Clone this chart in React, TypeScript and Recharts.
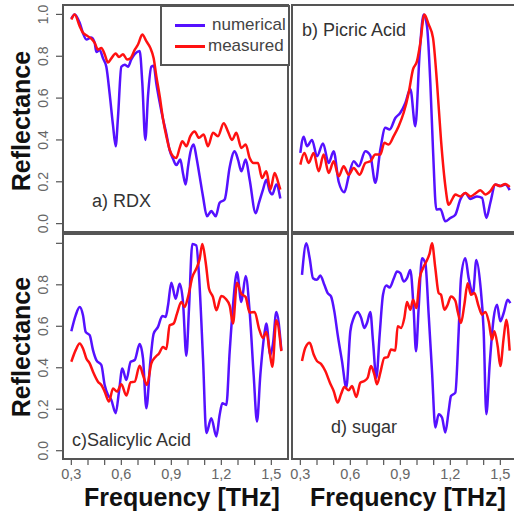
import React from 'react';
import { LineChart, Line, XAxis, YAxis, ReferenceArea } from 'recharts';

// frequency [THz], reflectance pairs
const rdxNumerical: [number, number][] = [
  [0.30, 0.98], [0.32, 1.0], [0.35, 0.96], [0.37, 0.91], [0.39, 0.88], [0.42, 0.89],
  [0.44, 0.865], [0.45, 0.82], [0.47, 0.83], [0.49, 0.79], [0.51, 0.75], [0.53, 0.62],
  [0.55, 0.47], [0.566, 0.37], [0.58, 0.51], [0.60, 0.75], [0.62, 0.76], [0.64, 0.75],
  [0.66, 0.785], [0.68, 0.81], [0.71, 0.825], [0.726, 0.67], [0.744, 0.40], [0.76, 0.61],
  [0.78, 0.75], [0.794, 0.755], [0.81, 0.67], [0.83, 0.58], [0.85, 0.50], [0.87, 0.43],
  [0.89, 0.35], [0.91, 0.31], [0.93, 0.28], [0.954, 0.306], [0.97, 0.24], [0.986, 0.187],
  [1.0, 0.27], [1.014, 0.34], [1.034, 0.378], [1.05, 0.32], [1.07, 0.226], [1.09, 0.13],
  [1.114, 0.035], [1.14, 0.06], [1.166, 0.035], [1.19, 0.10], [1.22, 0.115], [1.25, 0.27],
  [1.28, 0.346], [1.30, 0.306], [1.32, 0.25], [1.346, 0.306], [1.37, 0.21], [1.406, 0.05],
  [1.426, 0.10], [1.45, 0.163], [1.47, 0.21], [1.49, 0.155], [1.506, 0.14], [1.53, 0.187],
  [1.554, 0.12],
];
const rdxMeasured: [number, number][] = [
  [0.30, 0.976], [0.32, 1.0], [0.35, 0.944], [0.37, 0.912], [0.39, 0.90], [0.42, 0.884],
  [0.44, 0.864], [0.46, 0.832], [0.48, 0.84], [0.50, 0.81], [0.52, 0.77], [0.54, 0.79],
  [0.566, 0.813], [0.586, 0.797], [0.61, 0.81], [0.634, 0.785], [0.654, 0.79], [0.68, 0.83],
  [0.70, 0.856], [0.726, 0.904], [0.75, 0.872], [0.774, 0.84], [0.794, 0.79], [0.81, 0.705],
  [0.83, 0.61], [0.85, 0.50], [0.87, 0.418], [0.89, 0.354], [0.91, 0.322], [0.93, 0.314],
  [0.95, 0.362], [0.966, 0.394], [0.99, 0.37], [1.014, 0.418], [1.04, 0.44], [1.066, 0.41],
  [1.094, 0.426], [1.12, 0.37], [1.15, 0.434], [1.18, 0.418], [1.214, 0.48], [1.24, 0.44],
  [1.264, 0.40], [1.29, 0.434], [1.32, 0.362], [1.346, 0.378], [1.37, 0.314], [1.394, 0.29],
  [1.42, 0.29], [1.444, 0.218], [1.47, 0.25], [1.494, 0.163], [1.52, 0.242], [1.54, 0.20],
  [1.554, 0.163],
];
const picricNumerical: [number, number][] = [
  [0.30, 0.338], [0.32, 0.415], [0.34, 0.37], [0.37, 0.40], [0.40, 0.322], [0.436, 0.383],
  [0.47, 0.29], [0.50, 0.346], [0.53, 0.20], [0.564, 0.15], [0.59, 0.226], [0.62, 0.298],
  [0.65, 0.274], [0.69, 0.346], [0.72, 0.325], [0.75, 0.195], [0.78, 0.354], [0.81, 0.458],
  [0.836, 0.45], [0.87, 0.505], [0.90, 0.53], [0.93, 0.577], [0.96, 0.644], [0.99, 0.466],
  [1.016, 0.817], [1.04, 1.0], [1.06, 0.944], [1.08, 0.673], [1.096, 0.354], [1.116, 0.067],
  [1.14, 0.07], [1.17, 0.011], [1.20, 0.027], [1.23, 0.043], [1.26, 0.115], [1.29, 0.147],
  [1.32, 0.118], [1.36, 0.13], [1.39, 0.123], [1.416, 0.027], [1.44, 0.10], [1.47, 0.187],
  [1.50, 0.18], [1.53, 0.187], [1.556, 0.16],
];
const picricMeasured: [number, number][] = [
  [0.30, 0.282], [0.324, 0.338], [0.35, 0.29], [0.38, 0.338], [0.41, 0.25], [0.44, 0.33],
  [0.47, 0.242], [0.50, 0.298], [0.53, 0.226], [0.56, 0.274], [0.59, 0.234], [0.62, 0.266],
  [0.656, 0.234], [0.69, 0.29], [0.72, 0.298], [0.75, 0.33], [0.78, 0.33], [0.804, 0.386],
  [0.83, 0.378], [0.86, 0.418], [0.89, 0.466], [0.92, 0.53], [0.95, 0.625], [0.976, 0.737],
  [1.0, 0.777], [1.02, 0.864], [1.044, 1.0], [1.07, 0.952], [1.096, 0.888], [1.12, 0.673],
  [1.144, 0.40], [1.17, 0.18], [1.19, 0.09], [1.21, 0.115], [1.23, 0.139], [1.26, 0.13],
  [1.29, 0.147], [1.32, 0.13], [1.35, 0.144], [1.38, 0.16], [1.41, 0.139], [1.44, 0.155],
  [1.47, 0.187], [1.50, 0.18], [1.53, 0.19], [1.556, 0.175],
];
const salicylicNumerical: [number, number][] = [
  [0.30, 0.576], [0.326, 0.653], [0.35, 0.693], [0.37, 0.653], [0.386, 0.573], [0.41, 0.557],
  [0.43, 0.485], [0.45, 0.437], [0.48, 0.413], [0.50, 0.317], [0.52, 0.269], [0.54, 0.245],
  [0.566, 0.181], [0.586, 0.285], [0.606, 0.397], [0.63, 0.341], [0.656, 0.429], [0.68, 0.437],
  [0.71, 0.514], [0.73, 0.445], [0.75, 0.205], [0.774, 0.429], [0.794, 0.565], [0.82, 0.597],
  [0.846, 0.65], [0.866, 0.645], [0.88, 0.70], [0.90, 0.81], [0.926, 0.733], [0.95, 0.805],
  [0.97, 0.717], [0.99, 0.458], [1.006, 0.685], [1.026, 0.997], [1.05, 0.99], [1.066, 0.845],
  [1.09, 0.445], [1.11, 0.085], [1.14, 0.157], [1.17, 0.069], [1.19, 0.173], [1.206, 0.229],
  [1.23, 0.221], [1.25, 0.477], [1.27, 0.70], [1.294, 0.861], [1.32, 0.717], [1.346, 0.842],
  [1.37, 0.669], [1.394, 0.365], [1.414, 0.141], [1.434, 0.365], [1.46, 0.573], [1.47, 0.613],
  [1.494, 0.461], [1.51, 0.517], [1.53, 0.669], [1.56, 0.485],
];
const salicylicMeasured: [number, number][] = [
  [0.30, 0.429], [0.326, 0.485], [0.35, 0.517], [0.37, 0.493], [0.39, 0.445], [0.41, 0.421],
  [0.43, 0.381], [0.46, 0.333], [0.48, 0.317], [0.50, 0.285], [0.526, 0.237], [0.55, 0.30],
  [0.574, 0.285], [0.60, 0.32], [0.63, 0.266], [0.656, 0.33], [0.68, 0.333], [0.71, 0.41],
  [0.73, 0.365], [0.754, 0.317], [0.78, 0.421], [0.806, 0.453], [0.826, 0.469], [0.85, 0.50],
  [0.87, 0.49], [0.89, 0.605], [0.914, 0.613], [0.934, 0.661], [0.96, 0.717], [0.98, 0.693],
  [1.0, 0.741], [1.026, 0.837], [1.054, 0.885], [1.07, 0.925], [1.086, 0.997], [1.106, 0.909],
  [1.126, 0.781], [1.15, 0.741], [1.17, 0.677], [1.20, 0.746], [1.226, 0.733], [1.25, 0.70],
  [1.27, 0.613], [1.294, 0.81], [1.32, 0.757], [1.346, 0.741], [1.37, 0.666], [1.40, 0.669],
  [1.426, 0.589], [1.45, 0.544], [1.47, 0.573], [1.49, 0.477], [1.506, 0.405], [1.53, 0.629],
  [1.56, 0.48],
];
const sugarNumerical: [number, number][] = [
  [0.31, 0.848], [0.336, 1.0], [0.356, 0.928], [0.376, 0.832], [0.40, 0.824], [0.42, 0.845],
  [0.444, 0.80], [0.464, 0.76], [0.484, 0.744], [0.504, 0.672], [0.524, 0.56], [0.55, 0.432],
  [0.576, 0.304], [0.60, 0.576], [0.62, 0.64], [0.644, 0.669], [0.664, 0.643], [0.684, 0.592],
  [0.70, 0.616], [0.72, 0.669], [0.736, 0.528], [0.756, 0.352], [0.776, 0.56], [0.796, 0.752],
  [0.816, 0.797], [0.836, 0.787], [0.86, 0.829], [0.88, 0.864], [0.90, 0.856], [0.92, 0.816],
  [0.94, 0.832], [0.96, 0.872], [0.98, 0.68], [0.994, 0.48], [1.01, 0.688], [1.03, 0.928],
  [1.05, 0.904], [1.07, 0.656], [1.09, 0.384], [1.11, 0.112], [1.13, 0.176], [1.15, 0.16],
  [1.17, 0.088], [1.19, 0.192], [1.204, 0.264], [1.23, 0.28], [1.25, 0.576], [1.264, 0.832],
  [1.29, 0.928], [1.31, 0.832], [1.336, 0.76], [1.356, 0.92], [1.38, 0.80], [1.40, 0.576],
  [1.416, 0.176], [1.436, 0.416], [1.46, 0.64], [1.48, 0.704], [1.50, 0.624], [1.52, 0.664],
  [1.544, 0.728], [1.56, 0.712],
];
const sugarMeasured: [number, number][] = [
  [0.31, 0.432], [0.33, 0.496], [0.356, 0.52], [0.38, 0.464], [0.40, 0.432], [0.424, 0.419],
  [0.45, 0.384], [0.48, 0.323], [0.50, 0.288], [0.524, 0.232], [0.544, 0.272], [0.564, 0.307],
  [0.59, 0.291], [0.61, 0.312], [0.636, 0.259], [0.66, 0.328], [0.684, 0.336], [0.704, 0.352],
  [0.724, 0.408], [0.744, 0.368], [0.76, 0.32], [0.78, 0.376], [0.804, 0.448], [0.824, 0.451],
  [0.844, 0.488], [0.87, 0.483], [0.884, 0.60], [0.904, 0.592], [0.924, 0.64], [0.94, 0.717],
  [0.96, 0.68], [0.976, 0.728], [0.996, 0.688], [1.016, 0.832], [1.036, 0.88], [1.056, 0.912],
  [1.076, 0.952], [1.09, 1.0], [1.11, 0.88], [1.13, 0.76], [1.144, 0.752], [1.164, 0.68],
  [1.184, 0.704], [1.204, 0.744], [1.23, 0.723], [1.244, 0.672], [1.264, 0.616], [1.284, 0.704],
  [1.304, 0.808], [1.324, 0.752], [1.344, 0.76], [1.37, 0.696], [1.39, 0.656], [1.41, 0.669],
  [1.43, 0.624], [1.45, 0.536], [1.464, 0.576], [1.484, 0.504], [1.50, 0.408], [1.52, 0.544],
  [1.536, 0.632], [1.556, 0.483],
];

const xTicks = [0.3, 0.4, 0.5, 0.6, 0.7, 0.8, 0.9, 1.0, 1.1, 1.2, 1.3, 1.4, 1.5];
const xTickLabels = ['0,3', '', '', '0,6', '', '', '0,9', '', '', '1,2', '', '', '1,5'];
const yTicks = [0, 0.2, 0.4, 0.6, 0.8, 1.0];
const yTickLabelsTop = ['0.0', '0.2', '0.4', '0.6', '0.8', '1.0'];
// bottom row: R drops the 1.0 label where it would collide with the panel above
const yTickLabelsBottom = ['0.0', '0.2', '0.4', '0.6', '0.8', ''];

const BLUE = '#5511ff';
const RED = '#ff1111';
const FRAME = '#555';
const FONT = "'Liberation Sans', Arial, sans-serif";
const X_DOMAIN: [number, number] = [0.25, 1.6];
const Y_DOMAIN: [number, number] = [-0.04, 1.045];

const toRows = (pts: [number, number][]) => pts.map(([f, r]) => ({ f, r }));

type Frame = { x: number; y: number; w: number; h: number };

const makeYTick = (labels: string[]) => (props: any) => {
  const { x, y, index } = props;
  const tx = x - 6;
  return (
    <text x={tx} y={y} transform={`rotate(-90 ${tx} ${y})`} textAnchor="middle"
      fontSize={14} fill="#666" fontFamily={FONT}>
      {labels[index]}
    </text>
  );
};

const Panel = ({ frame, numerical, measured, yLabels, xAxis }: {
  frame: Frame; numerical: [number, number][]; measured: [number, number][];
  yLabels: string[] | null; xAxis: boolean;
}) => {
  const pad = 3;
  const yw = yLabels ? frame.x : 8;
  const xh = xAxis ? 40 : 0;
  const left = frame.x - yw;
  const top = frame.y - pad;
  return (
    <div style={{ position: 'absolute', left, top }}>
      <LineChart width={yw + frame.w + pad} height={pad + frame.h + (xAxis ? xh : pad)}
        margin={{ top: pad, right: pad, bottom: xAxis ? 0 : pad, left: 0 }}>
        <XAxis type="number" dataKey="f" domain={X_DOMAIN} ticks={xTicks} hide={!xAxis}
          height={xh} axisLine={false} tickSize={6} tickMargin={4} interval={0}
          tickLine={{ stroke: FRAME, strokeWidth: 1.2 }}
          tick={{ fontSize: 14.5, fill: '#666', fontFamily: FONT }}
          tickFormatter={(_v: number, i: number) => xTickLabels[i]} allowDataOverflow />
        <YAxis type="number" domain={Y_DOMAIN} ticks={yTicks} width={yw} axisLine={false}
          tickSize={7} tickLine={{ stroke: FRAME, strokeWidth: 1.2 }}
          tick={yLabels ? makeYTick(yLabels) : false} interval={0} allowDataOverflow />
        <ReferenceArea x1={X_DOMAIN[0]} x2={X_DOMAIN[1]} y1={Y_DOMAIN[0]} y2={Y_DOMAIN[1]}
          fill="none" fillOpacity={0} stroke={FRAME} strokeWidth={2} ifOverflow="visible" />
        <Line data={toRows(numerical)} dataKey="r" type="monotone" stroke={BLUE}
          strokeWidth={2.5} dot={false} isAnimationActive={false} />
        <Line data={toRows(measured)} dataKey="r" type="monotone" stroke={RED}
          strokeWidth={2.5} dot={false} isAnimationActive={false} />
      </LineChart>
    </div>
  );
};

const label = (text: string, left: number, top: number, size = 18) => (
  <div style={{ position: 'absolute', left, top, fontSize: size, fontFamily: FONT, color: '#333', whiteSpace: 'nowrap', lineHeight: 1 }}>
    {text}
  </div>
);

const axisTitle: React.CSSProperties = {
  position: 'absolute', fontFamily: FONT, fontWeight: 'bold', fontSize: 25,
  color: '#111', whiteSpace: 'nowrap', lineHeight: 1,
};

export default function App() {
  return (
    <div style={{ position: 'absolute', left: 0, top: 0, width: 514, height: 518, overflow: 'hidden', background: '#fff' }}>
      <Panel frame={{ x: 63, y: 5, w: 225, h: 227 }} numerical={rdxNumerical} measured={rdxMeasured} yLabels={yTickLabelsTop} xAxis={false} />
      <Panel frame={{ x: 292, y: 5, w: 225, h: 227 }} numerical={picricNumerical} measured={picricMeasured} yLabels={null} xAxis={false} />
      <Panel frame={{ x: 63, y: 234, w: 225, h: 225 }} numerical={salicylicNumerical} measured={salicylicMeasured} yLabels={yTickLabelsBottom} xAxis />
      <Panel frame={{ x: 292, y: 234, w: 225, h: 225 }} numerical={sugarNumerical} measured={sugarMeasured} yLabels={null} xAxis />

      {label('a) RDX', 92, 192)}
      {label('b) Picric Acid', 302, 21)}
      {label('c)Salicylic Acid', 72, 431)}
      {label('d) sugar', 331, 418)}

      {/* legend box in panel a */}
      <div style={{ position: 'absolute', left: 160, top: 5, width: 126, height: 57, border: `2px solid ${FRAME}`, background: '#fff', fontFamily: FONT, fontSize: 17, color: '#444' }}>
        <div style={{ position: 'absolute', left: 13, top: 17, width: 30, height: 2.5, background: BLUE }} />
        <div style={{ position: 'absolute', left: 50, top: 9, lineHeight: 1 }}>numerical</div>
        <div style={{ position: 'absolute', left: 13, top: 38, width: 30, height: 2.5, background: RED }} />
        <div style={{ position: 'absolute', left: 46, top: 30, lineHeight: 1 }}>measured</div>
      </div>

      <div style={{ ...axisTitle, left: 21, top: 121, transform: 'translate(-50%, -50%) rotate(-90deg)' }}>Reflectance</div>
      <div style={{ ...axisTitle, left: 21, top: 347, transform: 'translate(-50%, -50%) rotate(-90deg)' }}>Reflectance</div>
      <div style={{ ...axisTitle, left: 182, top: 497, transform: 'translate(-50%, -50%)' }}>Frequency [THz]</div>
      <div style={{ ...axisTitle, left: 408, top: 497, transform: 'translate(-50%, -50%)' }}>Frequency [THz]</div>
    </div>
  );
}
